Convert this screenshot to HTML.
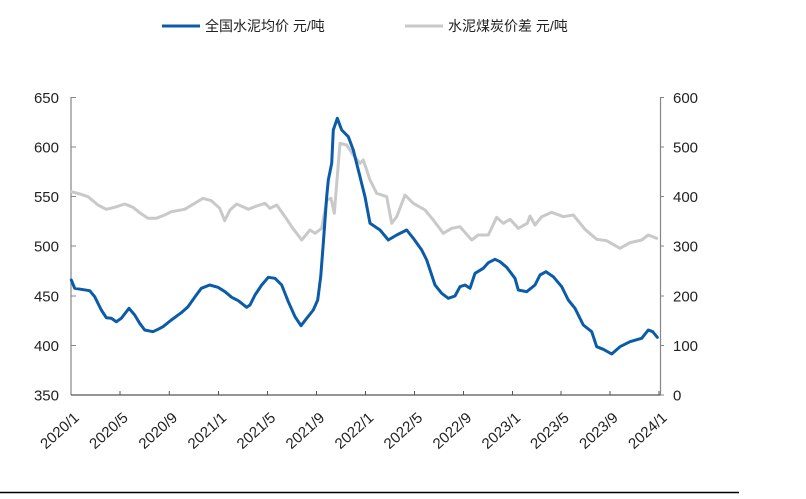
<!DOCTYPE html>
<html>
<head>
<meta charset="utf-8">
<style>
  html,body{margin:0;padding:0;background:#fff;}
  svg{display:block;}
  text{font-family:"Liberation Sans","Noto Sans CJK SC",sans-serif;fill:#222;}
</style>
</head>
<body>
<svg width="806" height="499" viewBox="0 0 806 499" xmlns="http://www.w3.org/2000/svg">
  <rect width="806" height="499" fill="#fff"/>

  <!-- Legend -->
  <line x1="162" y1="26" x2="200" y2="26" stroke="#0b5ca8" stroke-width="3"/>
  <text x="205" y="31" font-size="14">全国水泥均价 元/吨</text>
  <line x1="405" y1="26" x2="443" y2="26" stroke="#c8c8c8" stroke-width="3"/>
  <text x="448" y="31" font-size="14">水泥煤炭价差 元/吨</text>

  <!-- Axes -->
  <line x1="71" y1="97" x2="71" y2="395" stroke="#868686" stroke-width="1.2"/>
  <line x1="660.5" y1="97" x2="660.5" y2="395" stroke="#868686" stroke-width="1.2"/>
  <line x1="71" y1="395" x2="660.5" y2="395" stroke="#555" stroke-width="1.2"/>

  <!-- ticks -->
  <g stroke="#868686" stroke-width="1">
    <line x1="71" y1="97.5" x2="76" y2="97.5"/>
    <line x1="71" y1="147" x2="76" y2="147"/>
    <line x1="71" y1="196.5" x2="76" y2="196.5"/>
    <line x1="71" y1="246" x2="76" y2="246"/>
    <line x1="71" y1="296" x2="76" y2="296"/>
    <line x1="71" y1="345.5" x2="76" y2="345.5"/>
    <line x1="660" y1="97.5" x2="664" y2="97.5"/>
    <line x1="660" y1="147" x2="664" y2="147"/>
    <line x1="660" y1="196.5" x2="664" y2="196.5"/>
    <line x1="660" y1="246" x2="664" y2="246"/>
    <line x1="660" y1="296" x2="664" y2="296"/>
    <line x1="660" y1="345.5" x2="664" y2="345.5"/>
    <line x1="660" y1="395" x2="664" y2="395"/>
  </g>
  <g stroke="#555" stroke-width="1">
    <line x1="120" y1="395" x2="120" y2="391"/>
    <line x1="169.3" y1="395" x2="169.3" y2="391"/>
    <line x1="218.5" y1="395" x2="218.5" y2="391"/>
    <line x1="267.5" y1="395" x2="267.5" y2="391"/>
    <line x1="316.5" y1="395" x2="316.5" y2="391"/>
    <line x1="365.5" y1="395" x2="365.5" y2="391"/>
    <line x1="414.5" y1="395" x2="414.5" y2="391"/>
    <line x1="463.5" y1="395" x2="463.5" y2="391"/>
    <line x1="512.5" y1="395" x2="512.5" y2="391"/>
    <line x1="561" y1="395" x2="561" y2="391"/>
    <line x1="610" y1="395" x2="610" y2="391"/>
    <line x1="659" y1="395" x2="659" y2="391"/>
  </g>

  <!-- left labels -->
  <g font-size="15" text-anchor="end">
    <text x="59" y="103">650</text>
    <text x="59" y="152.5">600</text>
    <text x="59" y="202">550</text>
    <text x="59" y="251.5">500</text>
    <text x="59" y="301.5">450</text>
    <text x="59" y="351">400</text>
    <text x="59" y="400.5">350</text>
  </g>
  <!-- right labels -->
  <g font-size="15" text-anchor="start">
    <text x="673" y="103">600</text>
    <text x="673" y="152.5">500</text>
    <text x="673" y="202">400</text>
    <text x="673" y="251.5">300</text>
    <text x="673" y="301.5">200</text>
    <text x="673" y="351">100</text>
    <text x="673" y="400.5">0</text>
  </g>

  <!-- x labels -->
  <g font-size="15" text-anchor="end">
    <text x="80" y="419" transform="rotate(-42 80 419)">2020/1</text>
    <text x="129" y="419" transform="rotate(-42 129 419)">2020/5</text>
    <text x="178.3" y="419" transform="rotate(-42 178.3 419)">2020/9</text>
    <text x="227.5" y="419" transform="rotate(-42 227.5 419)">2021/1</text>
    <text x="276.5" y="419" transform="rotate(-42 276.5 419)">2021/5</text>
    <text x="325.5" y="419" transform="rotate(-42 325.5 419)">2021/9</text>
    <text x="374.5" y="419" transform="rotate(-42 374.5 419)">2022/1</text>
    <text x="423.5" y="419" transform="rotate(-42 423.5 419)">2022/5</text>
    <text x="472.5" y="419" transform="rotate(-42 472.5 419)">2022/9</text>
    <text x="521.5" y="419" transform="rotate(-42 521.5 419)">2023/1</text>
    <text x="570" y="419" transform="rotate(-42 570 419)">2023/5</text>
    <text x="619" y="419" transform="rotate(-42 619 419)">2023/9</text>
    <text x="668" y="419" transform="rotate(-42 668 419)">2024/1</text>
  </g>

  <!-- Gray series -->
  <polyline fill="none" stroke="#c9c9c9" stroke-width="3" stroke-linejoin="round" stroke-linecap="round"
    points="71.3,191.7 80,194 88,196.7 98,205 106.3,209.3 114.7,207.3 124.7,204 133,207.3 139.7,212.7 148,218.3 156.3,218.3 164.7,215 171.3,211.7 184.7,209.3 194.7,203.3 203,198.3 211.3,200.7 219.7,208.3 224.7,220.7 230,210 236.7,204 248.3,209.3 256.7,206 265,203.3 270,208.3 276.7,205 285,216.7 291.7,226.7 301.7,240 310,230 315,233.3 321.7,228.3 326.7,200 331,198.3 334.3,213.3 340,143.3 346.7,145 353.3,155 360,163.3 363.3,160 370,180 376.7,193.3 386.7,196.7 391.7,223.3 396.7,216.7 405,195 413.3,203.3 425,210 433.3,220 443.3,233.3 451.7,228.3 460,226.7 471.7,240 478.3,235 488.3,235 496.7,217.3 503.3,223.3 510,219.3 518.3,228.3 527.3,223.3 530,216 535,225 541.7,216.7 551.7,212.3 563.3,216.7 573.3,215 585,229.3 596.7,239.3 606.7,240.7 620,248.3 630,242.7 641.7,240 648.3,235 656.7,238.3"/>

  <!-- Blue series -->
  <polyline fill="none" stroke="#0b5ca8" stroke-width="3" stroke-linejoin="round" stroke-linecap="round"
    points="71.3,280 74.7,288.3 89.7,290.7 94.7,296.7 101.3,310 106.3,317.7 111.3,318.3 116.3,321.7 121.3,318.3 129,308.3 134.7,315 139.7,323.3 144.7,330 153,331.7 158,329.3 163,326.7 171.3,320 181.3,312.7 188,306.7 196.3,295 201.3,288.3 209.7,285 218,287.3 225,291.7 231.7,297.3 238.3,300.7 246.7,307.3 250,305 255,295 261.7,285 268.3,277.3 275,278.3 281.7,285 288.3,301.7 295,316.7 301,325.7 306.7,318.3 313.3,310 317.7,300 320.7,276.7 323.3,243.3 326.7,196.7 328.3,180 331.7,163.3 333.3,130 337.3,118.3 341.7,130 348.3,136.7 353.3,150 358.3,170 365,196.7 370,223.3 380,230 388.3,240 396.7,235 406.7,230 413.3,238.3 421.7,250 426.7,260 435,285 441.7,293.3 448.3,298.3 455,296 460,286.7 465,285 470,288.3 475,273.3 483.3,268.3 488.3,262.7 495,259.3 500,261.7 506.7,267.3 515,278.3 518.3,290 526.7,291.7 535,285 540,275 546,271.7 553.3,276.7 561.7,286.7 568.3,300 575,308.3 583.3,325 591.7,331.7 596.7,346.7 603.3,349.3 611.7,354 620,346.7 630,341.7 641.7,338.3 648.3,330 652.7,331.7 657.3,337.3"/>

  <!-- bottom rule -->
  <line x1="0" y1="492.5" x2="739" y2="492.5" stroke="#000" stroke-width="1.5"/>
</svg>
</body>
</html>
